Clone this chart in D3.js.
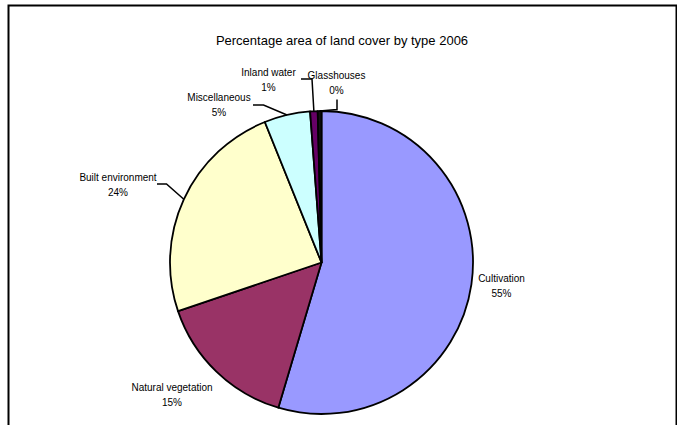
<!DOCTYPE html>
<html>
<head>
<meta charset="utf-8">
<script src="https://cdn.jsdelivr.net/npm/d3@7"></script>
<style>
  html, body { margin: 0; padding: 0; background: #fff; }
  svg { display: block; }
  text { font-family: "Liberation Sans", Arial, sans-serif; fill: #000; }
</style>
</head>
<body>
<script>
// ---- data ----
const title = "Percentage area of land cover by type 2006";
const categories = ["Cultivation", "Natural vegetation", "Built environment", "Miscellaneous", "Inland water", "Glasshouses"];
const percents = [54.6, 15.2, 24.1, 4.9, 0.8, 0.4];
const colors = ["#9999FF", "#993366", "#FFFFCC", "#CCFFFF", "#660066", "#111111"];

// ---- layout (label centres relative to pie centre, leader elbows) ----
const W = 677, H = 425;
const cx = 321.5, cy = 262.5, R = 151.5;
const labelLayout = {
  "Cultivation":        { dx: 180, dy: 19.5, leader: null },
  "Natural vegetation": { dx: -149.5, dy: 128, leader: null },
  "Built environment":  { dx: -203.5, dy: -81.5, leader: [[-155, -78.5], [-164.5, -78.5]] },
  "Miscellaneous":      { dx: -102.5, dy: -161.5, leader: [[-58, -157.5], [-68.5, -157.5]] },
  "Inland water":       { dx: -53, dy: -187, leader: [[-9.5, -183.5], [-20.5, -183.5]] },
  "Glasshouses":        { dx: 15, dy: -183.5, leader: [[15.5, -153], [15.5, -163]] }
};

const data = categories.map((c, i) => ({ name: c, value: percents[i], color: colors[i] }));

const svg = d3.select("body").append("svg")
  .attr("width", W).attr("height", H);

// frame
svg.append("rect")
  .attr("x", 8.5).attr("y", 5.5)
  .attr("width", 668).attr("height", 500)
  .attr("fill", "#fff").attr("stroke", "#000").attr("stroke-width", 2);

svg.append("text")
  .attr("x", 342).attr("y", 45)
  .attr("text-anchor", "middle")
  .style("font-size", "13px")
  .text(title);

const pie = d3.pie().value(d => d.value).sort(null).startAngle(0).endAngle(2 * Math.PI);
const arcs = pie(data);
const arc = d3.arc().innerRadius(0).outerRadius(R);
const edgeArc = d3.arc().innerRadius(R).outerRadius(R);

const g = svg.append("g").attr("transform", `translate(${cx},${cy})`);

g.selectAll("path.slice")
  .data(arcs)
  .enter().append("path")
  .attr("class", "slice")
  .attr("d", arc)
  .attr("fill", d => d.data.color)
  .attr("stroke", "#000")
  .attr("stroke-width", 1.8)
  .attr("stroke-linejoin", "round");

// leader lines
arcs.forEach(d => {
  const L = labelLayout[d.data.name];
  if (!L.leader) return;
  const start = edgeArc.centroid(d);
  const pts = [start, ...L.leader];
  g.append("path")
    .attr("d", d3.line()(pts))
    .attr("fill", "none")
    .attr("stroke", "#000")
    .attr("stroke-width", 1.5);
});

// labels
const fmt = v => Math.round(v) + "%";
arcs.forEach(d => {
  const L = labelLayout[d.data.name];
  const t = g.append("text")
    .attr("text-anchor", "middle")
    .style("font-size", "10px")
    .attr("x", L.dx).attr("y", L.dy);
  t.append("tspan").attr("x", L.dx).attr("dy", 0).text(d.data.name);
  t.append("tspan").attr("x", L.dx).attr("dy", 15).text(fmt(d.data.value));
});
</script>
</body>
</html>
